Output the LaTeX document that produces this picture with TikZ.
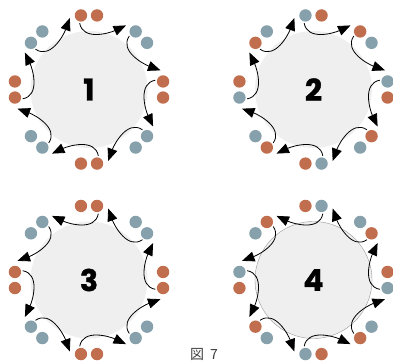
\documentclass[tikz,border=0pt]{standalone}
\usepackage{fontspec}
\newfontfamily\digitfont{Poppins}[BoldFeatures={FakeBold=1.2}]
\newfontfamily\cjkfont{Noto Sans CJK JP}
\usepackage{tikz}
\usetikzlibrary{calc,arrows.meta}
\usepackage{xcolor}
\definecolor{diskgray}{RGB}{239,239,239}
\definecolor{beadorange}{RGB}{193,110,78}
\definecolor{beadblue}{RGB}{134,161,171}

\begin{document}
\begin{tikzpicture}[x=1pt,y=1pt,
  flow/.style={line width=0.8pt,-{Triangle[length=12.5pt,width=10pt]}}]
  \useasboundingbox (0,0) rectangle (393,360);
  \coordinate (C1) at (89,270.5); \coordinate (C2) at (313.5,270.5);
  \coordinate (C3) at (89,80); \coordinate (C4) at (313.5,80);

  \fill[diskgray] (C1) circle (58.5);
  \fill[diskgray] (C2) circle (58.5);
  \fill[diskgray] (C3) circle (58.5);
  \draw[fill=diskgray, draw=gray!80, line width=0.4pt] (C4) circle (58.5);

  \foreach \p/\ca/\cb/\cc/\cd/\s in {1/beadorange/beadorange/beadblue/beadblue/-1,
      2/beadblue/beadorange/beadorange/beadblue/-1,
      3/beadorange/beadorange/beadblue/beadblue/1,
      4/beadorange/beadblue/beadblue/beadorange/1}{
    \node[font=\digitfont\bfseries\fontsize{30}{30}\selectfont] (num\p) at (C\p) {\p};
    \foreach \k in {0,2,4,6}{
      \pgfmathsetmacro\angA{90-45*\k}
      \pgfmathsetmacro\angB{\angA-45}
      \fill[\ca] ($(C\p)+(\angA+6.2:74.5)$) circle (6.2);
      \fill[\cb] ($(C\p)+(\angA-6.2:74.5)$) circle (6.2);
      \fill[\cc] ($(C\p)+(\angB+6.2:74.5)$) circle (6.2);
      \fill[\cd] ($(C\p)+(\angB-6.2:74.5)$) circle (6.2);
    }
    \foreach \k in {0,...,7}{
      \pgfmathsetmacro\angA{90-45*\k}
      \pgfmathsetmacro\angS{\angA-8*\s}
      \pgfmathsetmacro\angE{\angA+30*\s}
      \pgfmathsetmacro\angOut{\angA+180-10*\s}
      \pgfmathsetmacro\angIn{\angA+180+65*\s}
      \coordinate (s\p\k) at ($(C\p)+(\angS:67)$);
      \coordinate (e\p\k) at ($(C\p)+(\angE:74)$);
      \draw[flow] (s\p\k) to[out=\angOut, in=\angIn] (e\p\k);
    }
  }

  \node[font=\cjkfont\fontsize{14}{14}\selectfont, text=black!75, anchor=base] (cap) at (204,0.2) {図\hspace{6pt}7};
\end{tikzpicture}
\end{document}
